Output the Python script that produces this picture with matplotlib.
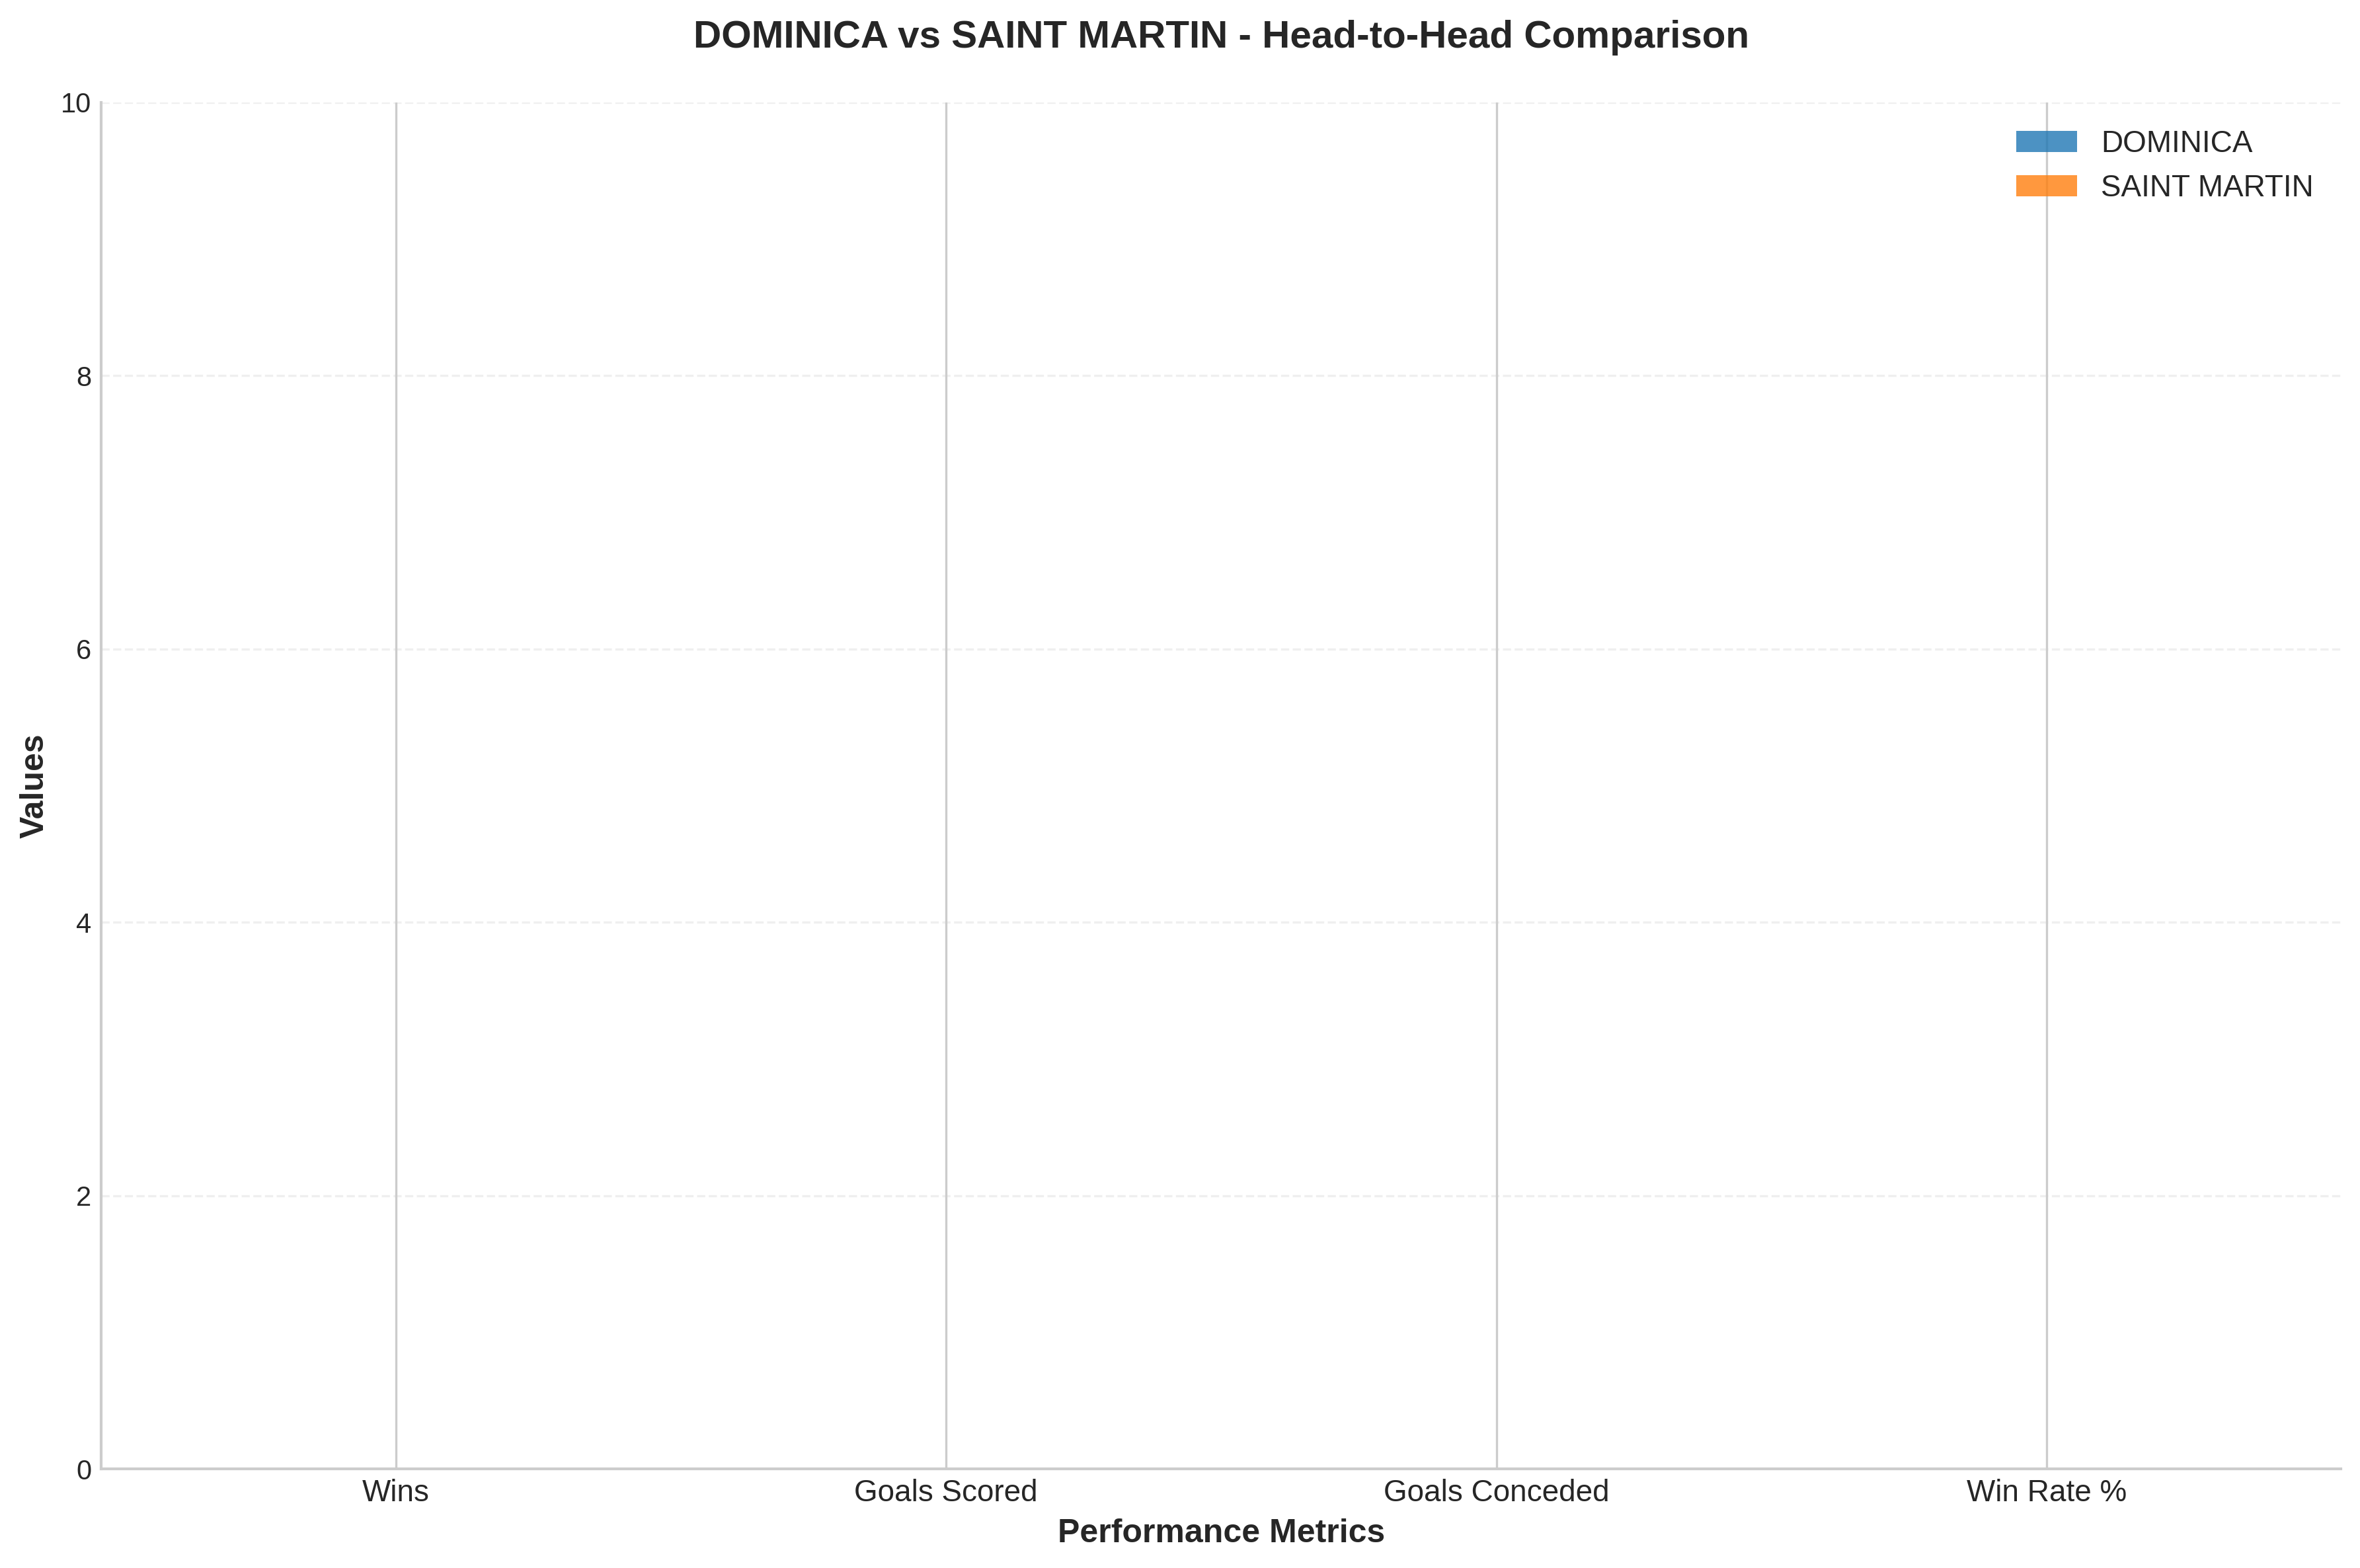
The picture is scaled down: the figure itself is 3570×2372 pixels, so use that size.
import numpy as np
import matplotlib
matplotlib.use('Agg')
import matplotlib.pyplot as plt

plt.style.use('seaborn-v0_8-whitegrid')
plt.rcParams['font.family'] = ['Liberation Sans', 'DejaVu Sans']

metrics = ['Wins', 'Goals Scored', 'Goals Conceded', 'Win Rate %']
team_a = 'DOMINICA'
team_b = 'SAINT MARTIN'
values_a = [0, 0, 0, 0]
values_b = [0, 0, 0, 0]

x = np.arange(len(metrics))
width = 0.35

fig, ax = plt.subplots(figsize=(11.9, 7.907), dpi=300)
fig.subplots_adjust(left=0.0429, right=0.992, top=0.9347, bottom=0.0632)

ax.bar(x - width/2, values_a, width, label=team_a, color='#1f77b4', alpha=0.8)
ax.bar(x + width/2, values_b, width, label=team_b, color='#ff7f0e', alpha=0.8)

ax.set_ylim(0, 10)
ax.set_xticks(x)
ax.set_xticklabels(metrics, fontsize=11)
ax.set_xlabel('Performance Metrics', fontsize=12, fontweight='bold')
ax.set_ylabel('Values', fontsize=12, fontweight='bold')
ax.set_title(f'{team_a} vs {team_b} - Head-to-Head Comparison',
             fontsize=14, fontweight='bold', pad=20)
ax.legend(fontsize=11)
ax.grid(axis='y', linestyle='--', alpha=0.3)
ax.spines['top'].set_visible(False)
ax.spines['right'].set_visible(False)

fig.savefig('out.png', dpi=300)
